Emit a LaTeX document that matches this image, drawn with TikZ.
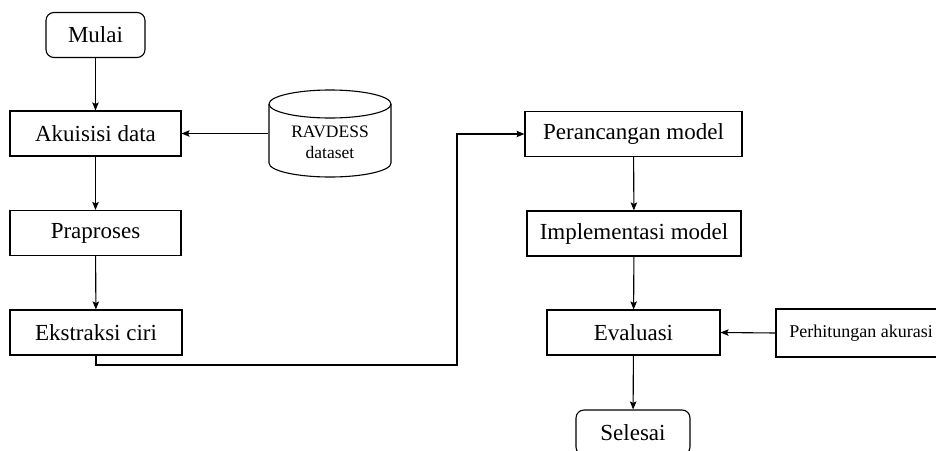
\documentclass[tikz,border=0pt]{standalone}
\usepackage{fontspec}
\setmainfont{Liberation Serif}
\usetikzlibrary{arrows.meta}
\begin{document}
\begin{tikzpicture}[x=1pt,y=1pt,
  line width=1.1pt,
  box/.style={draw, rectangle, minimum height=45pt, inner sep=0pt, font=\fontsize{23}{26}\selectfont},
  term/.style={box, rounded corners=8pt},
  arr/.style={-{Stealth[length=8pt,width=6.5pt,inset=1.5pt]}}]
\clip (0,0) rectangle (936,-450);
\useasboundingbox (0,0) rectangle (936,-450);

\node[term, minimum width=99pt] (mulai) at (95.5,-35) {Mulai};
\node[box, minimum width=171pt] (akuisisi) at (95.5,-133.5) {Akuisisi data};
\node[box, minimum width=171pt] (praproses) at (95.5,-233) {Praproses};
\node[box, minimum width=172pt] (ekstraksi) at (96,-332.5) {Ekstraksi ciri};

\node[box, minimum width=217pt] (perancangan) at (633.5,-134) {Perancangan model};
\node[box, minimum width=214pt] (implementasi) at (634,-233.5) {Implementasi model};
\node[box, minimum width=173pt] (evaluasi) at (633.5,-332.5) {Evaluasi};
\node[box, minimum width=170pt, minimum height=48pt, font=\fontsize{18}{20}\selectfont] (hitung) at (861,-333) {Perhitungan akurasi};
\node[term, minimum width=114pt] (selesai) at (633,-432.5) {Selesai};

% cylinder
\node[rectangle, minimum width=122pt, minimum height=87pt, inner sep=0pt] (data) at (330,-133.5) {};
\draw (269,-104) arc[start angle=180, end angle=540, x radius=61pt, y radius=14pt];
\draw (269,-104) -- (269,-163) arc[start angle=180, end angle=360, x radius=61pt, y radius=14pt] -- (391,-104);
\node[align=center, font=\fontsize{17.5}{21}\selectfont, inner sep=0pt] (datatext) at (330,-142) {RAVDESS\\dataset};

\coordinate (c1) at (457,-365);

\draw[arr] (mulai) -- (akuisisi);
\draw[arr] (data.west) -- (akuisisi.east);
\draw[arr] (akuisisi) -- (praproses);
\draw[arr] (praproses) -- (ekstraksi);
\draw[arr] (ekstraksi.south) |- (c1) |- (perancangan.west);
\draw[arr] (perancangan) -- (implementasi);
\draw[arr] (implementasi) -- (evaluasi);
\draw[arr] (hitung.west) -- (evaluasi.east);
\draw[arr] (evaluasi) -- (selesai);
\end{tikzpicture}
\end{document}
